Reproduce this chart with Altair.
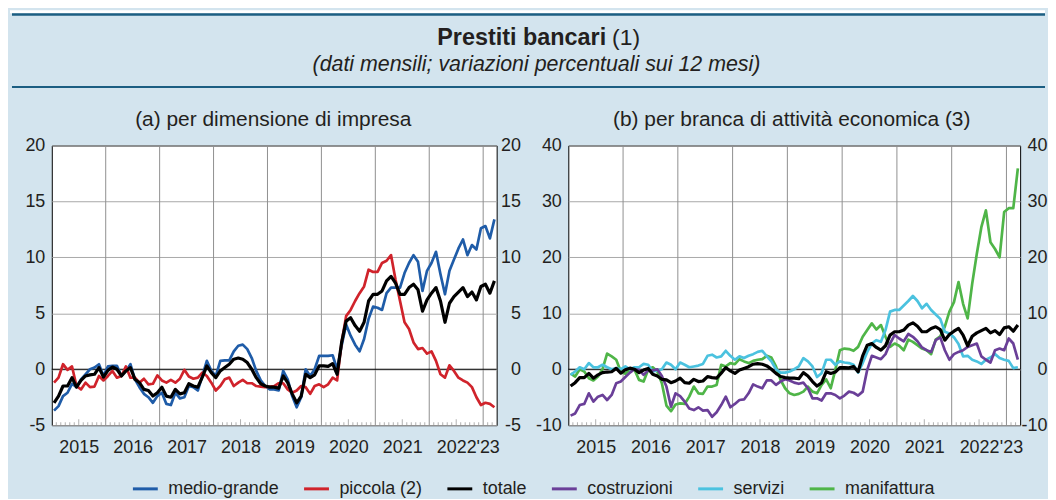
import altair as alt
import pandas as pd

# ---------------- data (monthly, Jan 2015 - Mar 2023) ----------------
medio_grande = [-3.7, -3.3, -2.4, -2.1, -1.3, -1.6, -0.9, -0.45, 0.0, 0.15, 0.45, -0.6,
                0.25, 0.3, 0.3, -0.6, -0.15, 0.45, -0.9, -1.6, -2.2, -2.5, -3.0, -2.4,
                -2.1, -3.1, -3.2, -2.1, -2.6, -2.5, -1.5, -1.6, -1.9, -0.6, 0.75, -0.15,
                -0.6, 0.75, 0.8, 0.8, 1.6, 2.1, 2.2, 1.8, 1.0, -0.15, -1.0, -1.5,
                -1.8, -1.8, -1.9, -0.15, -0.9, -2.4, -3.4, -2.5, 0.0, -0.6, 0.0, 1.2,
                1.2, 1.2, 1.25, 0.0, 2.1, 4.0, 3.0, 2.2, 1.6, 2.7, 4.5, 5.6,
                5.5, 5.3, 6.8, 7.3, 7.3, 7.3, 8.6, 9.5, 10.2, 9.6, 7.0, 8.8,
                9.5, 10.5, 8.5, 6.7, 8.8, 9.8, 10.8, 11.6, 10.2, 11.1, 10.7, 12.6,
                12.8, 11.7, 13.4]
piccola = [-1.2, -0.75, 0.45, -0.05, 0.25, -1.5, -1.8, -1.2, -1.6, -1.55, -0.6, -1.0,
           -0.6, -0.15, -0.75, -0.6, 0.25, -0.75, -0.75, -1.2, -0.85, -1.35, -1.3, -0.55,
           -1.0, -1.2, -0.95, -1.2, -0.85, -0.05, -0.65, -0.85, -0.75, -0.3, -0.6, -1.2,
           -1.9, -1.5, -0.9, -0.75, -1.5, -1.2, -0.95, -1.25, -1.25, -1.5, -1.55, -1.6,
           -1.55, -1.5, -1.25, -1.25, -1.8, -2.1, -1.9, -1.5, -1.6, -2.2, -1.5, -1.35,
           -1.6, -1.35, -0.75, -1.0, 2.4, 4.75, 5.3, 6.1, 6.8, 7.4, 8.9, 8.7,
           8.7, 9.5, 9.7, 10.2, 8.0, 6.1, 4.2, 3.6, 2.4, 1.8, 1.9, 1.4,
           1.6, 0.75, -0.45, -0.75, 0.35, -0.15, -0.75, -1.0, -1.2, -1.6, -2.5, -3.2,
           -3.0, -3.1, -3.4]
totale = [-3.0, -2.4, -1.5, -1.5, -0.75, -1.6, -1.0, -0.6, -0.5, -0.45, 0.15, -0.7,
          -0.1, 0.2, 0.0, -0.6, -0.15, 0.15, -0.9, -1.2, -1.8, -1.9, -2.4, -2.1,
          -1.6, -2.4, -2.5, -1.8, -2.2, -2.1, -1.3, -1.5, -1.6, -0.7, 0.3, -0.3,
          -0.75, -0.15, 0.15, 0.45, 0.9, 1.0, 0.9, 0.6, 0.0, -0.75, -1.3, -1.5,
          -1.6, -1.6, -1.7, -0.6, -1.2, -2.2, -3.0, -2.4, -0.45, -0.75, -0.5, 0.3,
          0.3, 0.25, 0.5, -0.45, 2.4, 4.3, 4.6, 3.9, 3.4, 4.2, 6.1, 6.7,
          6.7, 7.0, 7.9, 8.3, 7.7, 6.7, 6.7, 7.3, 7.6, 7.1, 5.2, 6.2,
          6.8, 7.3, 6.1, 4.2, 5.9, 6.5, 6.9, 7.3, 6.5, 6.9, 6.2, 7.4,
          7.6, 6.8, 7.9]
costruzioni = [-8.3, -7.9, -6.4, -6.2, -4.3, -5.8, -4.9, -4.6, -5.5, -4.6, -2.5, -2.2,
               -1.4, -0.6, 0.0, -0.1, -1.0, -0.2, -0.2, 0.0, -1.2, -3.1, -6.7, -4.3,
               -4.8, -5.8, -7.0, -7.3, -6.8, -7.4, -7.3, -8.5, -7.7, -6.4, -4.9, -6.8,
               -6.2, -5.5, -5.4, -4.3, -2.7, -3.1, -3.4, -2.0, -2.0, -2.8, -2.2, -1.8,
               -2.0, -2.4, -2.6, -2.4, -3.4, -5.2, -5.2, -5.6, -4.3, -4.3, -4.6, -5.2,
               -4.7, -4.0, -4.2, -4.7, -4.0, -0.1, 2.4, 2.1, 1.8, 2.7, 4.6, 6.1,
               5.5, 5.0, 6.3, 5.8, 5.0, 3.9, 3.4, 3.1, 5.2, 5.7, 3.4, 1.7,
               2.7, 3.1, 3.4, 4.0, 4.3, 4.6, 2.3, 1.7, 1.2, 3.4, 3.7, 3.4,
               5.5, 4.6, 1.7]
servizi = [-1.0, -0.4, 0.35, 0.0, 1.1, 0.35, 0.35, 0.8, 0.35, 0.0, 0.2, 0.0,
           0.5, 0.0, 0.35, 0.35, 0.95, 0.8, -0.4, -0.2, 0.0, 1.2, 0.8, 0.0,
           1.2, 0.8, 0.35, 0.5, 0.65, 0.95, 2.4, 2.6, 2.1, 2.3, 3.3, 2.4,
           1.7, 2.3, 2.0, 2.4, 2.7, 3.1, 3.3, 2.3, 1.4, 0.0, -0.6, -0.6,
           -0.4, 0.0, 0.5, 2.0, 1.4, 0.5, -1.4, -0.7, 1.7, 1.7, 0.8, 1.4,
           1.2, 1.1, 0.8, -0.6, 1.1, 3.1, 4.6, 5.2, 4.9, 7.0, 10.3, 10.6,
           10.6, 11.4, 12.2, 13.1, 12.2, 10.9, 11.7, 10.6, 9.8, 9.0, 6.7, 6.4,
           5.7, 4.5, 2.3, 2.4, 1.7, 1.4, 0.95, 1.7, 2.1, 2.7, 2.0, 1.7,
           1.5, 0.2, 0.35]
manifattura = [-0.8, -1.3, 0.0, -0.4, -1.6, -2.0, -1.3, 0.0, 2.8, 2.3, 1.7, -0.4,
               -0.8, 0.0, -0.1, -1.9, -2.2, -0.1, 0.35, -0.4, -2.5, -6.5, -7.5, -6.3,
               -6.1, -6.2, -4.9, -3.1, -4.3, -4.4, -3.1, -3.1, -2.8, 0.8, 0.5, 1.1,
               0.9, 1.8, 1.4, 1.1, 1.5, 1.7, 1.8, 2.4, 2.1, 0.5, -1.9, -3.4,
               -4.3, -4.6, -4.4, -4.0, -3.1, -4.0, -4.3, -2.8, -1.8, -3.4, -0.1, 3.4,
               3.7, 3.6, 3.3, 4.0, 5.8, 7.0, 8.2, 7.1, 7.9, 5.8, 4.0, 4.6,
               4.2, 3.4, 5.3, 4.9, 4.3, 3.7, 3.4, 2.7, 5.3, 5.9, 7.6, 10.3,
               12.0, 15.6, 11.7, 9.1, 15.3, 20.6, 25.4, 28.4, 22.7, 21.5, 20.0, 28.1,
               28.8, 28.8, 35.9]

series_names = ["medio-grande", "piccola (2)", "totale", "costruzioni", "servizi", "manifattura"]
series_colors = ["#1f5ca8", "#d0232b", "#000000", "#6a3f98", "#4bc2df", "#4fb548"]

year_labels = ["2015", "2016", "2017", "2018", "2019", "2020", "2021", "2022", "'23"]
year_label_pos = [6, 18, 30, 42, 54, 66, 78, 90, 97]
year_bounds = [12, 24, 36, 48, 60, 72, 84, 96]

title_bold = "Prestiti bancari"
title_rest = "(1)"
subtitle = "(dati mensili; variazioni percentuali sui 12 mesi)"
panel_a_title = "(a) per dimensione di impresa"
panel_b_title = "(b) per branca di attività economica (3)"

FONT = "Liberation Sans"
TXT = "#231f20"
BG = "#d3e4ee"
DARK = "#1b5e82"
N_MONTHS = len(totale)


def long_df(pairs):
    rows = []
    for name, vals in pairs:
        for i, v in enumerate(vals):
            rows.append({"x": i + 0.5, "v": v, "serie": name})
    return pd.DataFrame(rows)


df_a = long_df([("medio-grande", medio_grande), ("piccola (2)", piccola), ("totale", totale)])
df_b = long_df([("manifattura", manifattura), ("servizi", servizi),
                ("costruzioni", costruzioni), ("totale", totale)])

label_expr = "[" + ",".join("'%s'" % s.replace("'", "\\'") for s in year_labels) + "][indexof([" + \
    ",".join(str(p) for p in year_label_pos) + "], datum.value)]"

month_df = pd.DataFrame({"m": [m for m in range(1, N_MONTHS) if m % 6 != 0]})
mid_df = pd.DataFrame({"m": [m for m in range(6, N_MONTHS, 12)]})
bounds_df = pd.DataFrame({"g": year_bounds})
zero_df = pd.DataFrame({"z": [0]})

legend = alt.Legend(orient="none", legendX=80, legendY=467, direction="horizontal",
                    title=None, columns=6, symbolType="stroke", symbolSize=625,
                    symbolStrokeWidth=3, labelFontSize=18, labelFont=FONT, labelColor=TXT,
                    columnPadding=18, labelOffset=9, padding=0)


def panel(df, ymin, ymax, ystep, w, h, left_ext, right_pad, right_ext):
    xs = alt.Scale(domain=[0, N_MONTHS], nice=False, zero=False)
    ys = alt.Scale(domain=[ymin, ymax], nice=False, zero=False)
    yvals = list(range(ymin, ymax + 1, ystep))

    x_axis = alt.Axis(values=year_label_pos, labelExpr=label_expr, grid=False,
                      ticks=False, domain=False, labelFontSize=18, labelFont=FONT,
                      labelColor=TXT, labelPadding=13, labelFlush=False,
                      labelOverlap=False, title=None)
    y_axis = alt.Axis(values=yvals, grid=True, gridColor="#a8a8a8", gridWidth=1,
                      ticks=False, domain=False, labelFontSize=18, labelFont=FONT,
                      labelColor=TXT, labelPadding=7, labelExpr="datum.value + ''",
                      minExtent=left_ext, title=None)

    vgrid = alt.Chart(bounds_df).mark_rule(color="#8f8f8f", strokeWidth=1).encode(
        x=alt.X("g:Q", scale=xs, axis=x_axis))
    zero = alt.Chart(zero_df).mark_rule(color="black", strokeWidth=1.2).encode(
        y=alt.Y("z:Q", scale=ys, axis=y_axis))
    minor = alt.Chart(month_df).mark_tick(orient="vertical", size=3, thickness=1,
                                          color="#8f8f8f").encode(
        x=alt.X("m:Q", scale=xs, axis=x_axis), y=alt.value(h - 1.5))
    mid = alt.Chart(mid_df).mark_tick(orient="vertical", size=6, thickness=1,
                                      color="#8f8f8f").encode(
        x=alt.X("m:Q", scale=xs, axis=x_axis), y=alt.value(h - 3))
    lines = alt.Chart(df).mark_line(strokeJoin="round").encode(
        x=alt.X("x:Q", scale=xs, axis=x_axis),
        y=alt.Y("v:Q", scale=ys, axis=y_axis),
        color=alt.Color("serie:N", scale=alt.Scale(domain=series_names, range=series_colors),
                        legend=legend),
        strokeWidth=alt.condition(alt.datum.serie == "totale", alt.value(3.2), alt.value(2.7)),
        order=alt.Order("x:Q"),
    )
    right = alt.Chart(pd.DataFrame({"r": yvals})).mark_point(opacity=0).encode(
        y=alt.Y("r:Q", scale=ys,
                axis=alt.Axis(orient="right", values=yvals, grid=False, ticks=False,
                              domain=False, labelFontSize=18, labelFont=FONT, labelColor=TXT,
                              labelAlign="right", labelPadding=right_pad,
                              labelExpr="datum.value + ''", minExtent=right_ext, title=None)))
    left_layer = alt.layer(vgrid, zero, minor, mid, lines)
    return alt.layer(left_layer, right).resolve_scale(y="independent").properties(
        width=w, height=h, view=alt.ViewBackground(fill="white", stroke="black", strokeWidth=1))


panel_a = panel(df_a, -5, 20, 5, 447, 281, 42, 24, 30)
panel_b = panel(df_b, -10, 40, 10, 454, 281, 40, 27, 27)

# ---------------- header (x relative to left edge of panel (a) plot) ----------------
HW, HH = 998, 125
X0 = -42


def txt(s, x, y, size, weight="normal", style="normal", align="center"):
    return alt.Chart(pd.DataFrame({"t": [s]})).mark_text(
        font=FONT, fontSize=size, fontWeight=weight, fontStyle=style, color=TXT,
        align=align, baseline="alphabetic").encode(
        text="t:N", x=alt.value(x), y=alt.value(y))


band = alt.Chart(pd.DataFrame({"k": [0]})).mark_rule(color="white", strokeWidth=3).encode(
    x=alt.value(X0), x2=alt.value(HW), y=alt.value(1.5))
top_line = alt.Chart(pd.DataFrame({"k": [0]})).mark_rule(color=DARK, strokeWidth=2.5).encode(
    x=alt.value(X0 + 2), x2=alt.value(HW), y=alt.value(4.3))
sep_line = alt.Chart(pd.DataFrame({"k": [0]})).mark_rule(color=DARK, strokeWidth=2).encode(
    x=alt.value(X0 + 2), x2=alt.value(HW), y=alt.value(77.3))

header = alt.layer(
    band, top_line, sep_line,
    txt(title_bold, 557, 35, 23.5, weight="bold", align="right"),
    txt(title_rest, 563, 35, 23, align="left"),
    txt(subtitle, 487, 61, 21.5, style="italic"),
    txt(panel_a_title, 222.5, 116, 21),
    txt(panel_b_title, 743.5, 116, 21),
).properties(width=HW, height=HH)

chart = alt.vconcat(
    header,
    alt.hconcat(panel_a, panel_b, spacing=0),
    spacing=0,
).resolve_scale(color="shared").configure(
    background=BG, padding=0, font=FONT
).configure_view(stroke="transparent")

chart.save("out.html", embed_options={"renderer": "svg", "actions": False})
